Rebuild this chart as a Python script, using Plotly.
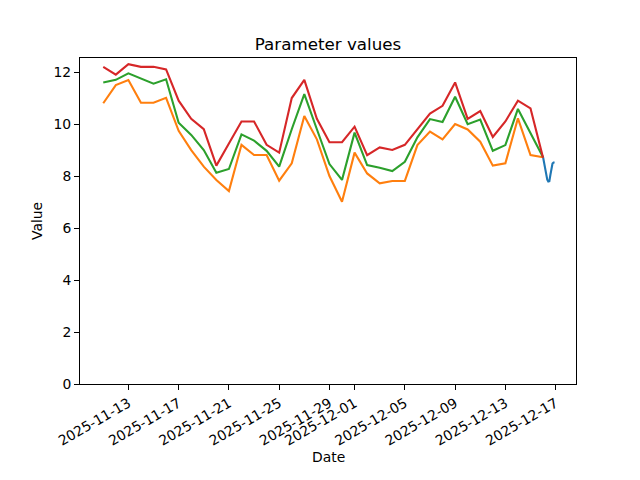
import plotly.graph_objects as go
import pandas as pd

dates = pd.date_range("2025-11-11", "2025-12-16", freq="D")

red_vals = [12.2, 11.9, 12.3, 12.2, 12.2, 12.1, 10.9, 10.2, 9.8, 8.4,
            9.25, 10.1, 10.1, 9.2, 8.9, 11.0, 11.7, 10.2, 9.3, 9.3,
            9.9, 8.8, 9.1, 9.0, 9.2, 9.8, 10.4, 10.7, 11.6, 10.2,
            10.5, 9.5, 10.1, 10.9, 10.6, 8.7]
green_vals = [11.6, 11.7, 11.95, 11.75, 11.55, 11.72, 10.05, 9.58, 9.0, 8.13,
              8.27, 9.6, 9.36, 8.97, 8.36, 9.8, 11.15, 9.8, 8.46, 7.85,
              9.67, 8.42, 8.32, 8.19, 8.55, 9.49, 10.19, 10.08, 11.05, 9.99,
              10.17, 8.97, 9.19, 10.58, 9.64, 8.72]
orange_vals = [10.8, 11.5, 11.69, 10.82, 10.82, 11.01, 9.74, 9.0, 8.36, 7.85,
               7.42, 9.2, 8.81, 8.81, 7.82, 8.49, 10.31, 9.41, 8.0, 7.01,
               8.9, 8.1, 7.72, 7.81, 7.81, 9.19, 9.71, 9.41, 10.0, 9.79,
               9.32, 8.4, 8.49, 10.22, 8.81, 8.72]

blue_times = pd.date_range("2025-12-16 00:00", "2025-12-16 22:00", freq="2h")
blue_vals = [8.72, 8.5, 8.25, 8.02, 7.86, 7.79, 7.8, 8.05, 8.32, 8.48, 8.52, 8.52]

tick_vals = ["2025-11-13", "2025-11-17", "2025-11-21", "2025-11-25", "2025-11-29",
             "2025-12-01", "2025-12-05", "2025-12-09", "2025-12-13", "2025-12-17"]
y_ticks = [0, 2, 4, 6, 8, 10, 12]

font_family = "DejaVu Sans"
fs = 13.9

fig = go.Figure()
fig.add_trace(go.Scatter(x=blue_times, y=blue_vals, mode="lines",
                         line=dict(color="#1f77b4", width=2.1), name="blue"))
fig.add_trace(go.Scatter(x=dates, y=orange_vals, mode="lines",
                         line=dict(color="#ff7f0e", width=2.1), name="orange"))
fig.add_trace(go.Scatter(x=dates, y=green_vals, mode="lines",
                         line=dict(color="#2ca02c", width=2.1), name="green"))
fig.add_trace(go.Scatter(x=dates, y=red_vals, mode="lines",
                         line=dict(color="#d62728", width=2.1), name="red"))

x_left = pd.Timestamp("2025-11-11") - pd.Timedelta(days=1.85)
x_right = x_left + pd.Timedelta(days=39.47)

# the page body adds an 8px offset, so margins are shifted accordingly
fig.update_layout(
    width=640, height=480,
    margin=dict(l=72, r=72, t=50, b=104, pad=0),
    paper_bgcolor="white", plot_bgcolor="white",
    showlegend=False,
    font=dict(family=font_family, size=fs, color="black"),
    title=dict(text="Parameter values", x=(72 + 248) / 640, xanchor="center",
               y=1 - 42 / 480, yanchor="bottom", yref="container",
               font=dict(family=font_family, size=16.7, color="black")),
    xaxis=dict(range=[x_left, x_right], tickvals=tick_vals, ticktext=tick_vals,
               tickangle=-30, ticks="outside", ticklen=5, tickwidth=1, tickcolor="black",
               showline=True, linecolor="black", linewidth=1, mirror=True,
               showgrid=False, zeroline=False,
               tickfont=dict(family=font_family, size=fs, color="black")),
    yaxis=dict(range=[0, 12.54], tickvals=y_ticks,
               ticks="outside", ticklen=5, tickwidth=1, tickcolor="black",
               showline=True, linecolor="black", linewidth=1, mirror=True,
               showgrid=False, zeroline=False,
               tickfont=dict(family=font_family, size=fs, color="black")),
    annotations=[
        dict(text="Date", x=0.5, xref="paper", y=-(457 - 384) / 326, yref="paper",
             yanchor="middle", showarrow=False,
             font=dict(family=font_family, size=fs, color="black")),
        dict(text="Value", textangle=-90, x=-(80 - 37) / 496, xref="paper",
             xanchor="center", y=0.5, yref="paper",
             showarrow=False, font=dict(family=font_family, size=fs, color="black")),
    ],
)

fig.write_html("out.html")
